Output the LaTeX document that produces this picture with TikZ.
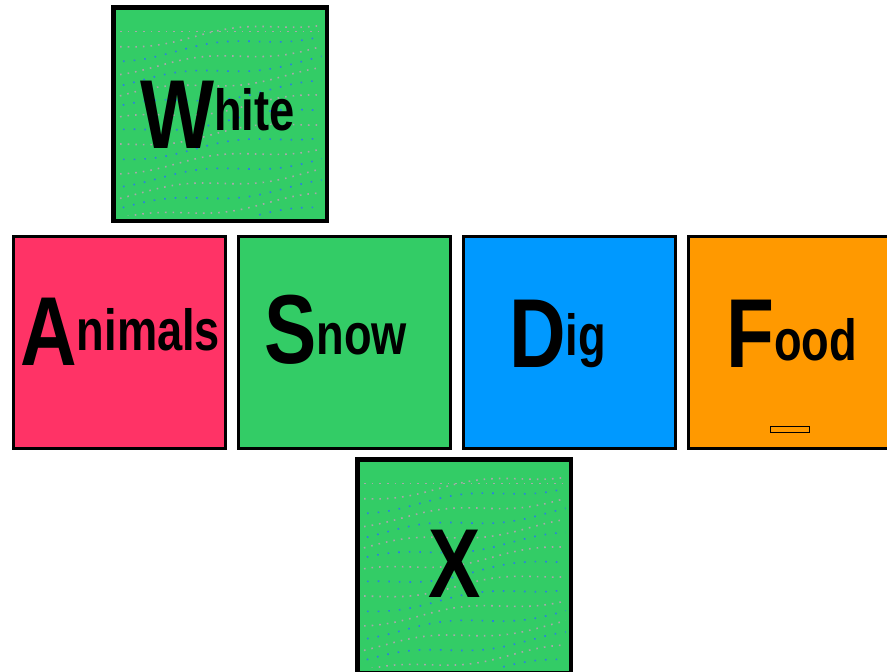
\documentclass[tikz,border=0pt]{standalone}
\usepackage{fontspec}
\setmainfont{Liberation Sans}
\usepackage{graphicx}
\definecolor{tgreen}{HTML}{33CC66}
\definecolor{tpink}{HTML}{FF3366}
\definecolor{tblue}{HTML}{0099FF}
\definecolor{torange}{HTML}{FF9900}
\definecolor{dotgray}{HTML}{A8A8A8}
\definecolor{dotblue}{HTML}{2A80E0}
\newcommand\tilelbl[3]{\scalebox{0.8}[1]{\fontsize{98}{98}\selectfont\bfseries #1}\raisebox{#3}{\scalebox{0.78}[1]{\fontsize{58}{58}\selectfont\bfseries #2}}}
\newcommand\tiletexture[1]{%
  \begin{scope}
    \clip ([shift={(6,6)}]#1.north west) rectangle ([shift={(-6,-6)}]#1.south east);
    \draw[dotgray, line width=1.6pt, dash pattern=on 1.6pt off 6pt]
      ([shift={(0,25)}]#1.north west) -- ([shift={(0,25)}]#1.north east);
    \foreach \k in {0,...,15}{
      \pgfmathsetmacro{\c}{mod(\k,2)==0 ? 1 : 0}
      \ifdim\c pt>0.5pt
        \draw[dotgray, line width=1.6pt, dash pattern=on 1.6pt off 6pt]
          plot[domain=0:215, samples=40, smooth]
          ([shift={(\x,{40+\k*12.5-0.12*\x+4*sin(\x*2.2+\k*40)})}]#1.north west);
      \else
        \draw[dotblue, line width=1.6pt, dash pattern=on 1.6pt off 9pt]
          plot[domain=0:215, samples=40, smooth]
          ([shift={(\x,{40+\k*12.5-0.12*\x+4*sin(\x*2.2+\k*40)})}]#1.north west);
      \fi
    }
  \end{scope}}
\tikzset{
  tile/.style={draw=black, line width=3pt, minimum width=212pt, minimum height=212pt,
    inner sep=0pt, anchor=north west, rectangle},
  lbl/.style={anchor=base west, inner sep=0pt, text=black},
  slot/.style={draw=black, line width=1.2pt, fill=torange, minimum width=39pt,
    minimum height=6pt, inner sep=0pt}
}
\begin{document}
\begin{tikzpicture}[x=1pt, y=-1pt]
\useasboundingbox[fill=white] (0,0) rectangle (887,672);
% tiles
\node[tile, fill=tgreen] (white) at (112.5,6.5) {};
\node[tile, fill=tpink] (animals) at (11.5,234.5) {};
\node[tile, fill=tgreen] (snow) at (236.5,234.5) {};
\node[tile, fill=tblue] (dig) at (461.5,234.5) {};
\node[tile, fill=torange] (food) at (686.5,234.5) {};
\node[tile, fill=tgreen] (x) at (356.5,458.5) {};
% textures
\tiletexture{white}
\tiletexture{x}
\draw[black, line width=3pt] (white.north west) rectangle (white.south east);
\draw[black, line width=3pt] (x.north west) rectangle (x.south east);
% labels
\node[lbl] (twhite) at (140,148) {\tilelbl{W}{hite}{18pt}};
\node[lbl] (tanimals) at (20,365) {\tilelbl{A}{nimals}{15pt}};
\node[lbl] (tsnow) at (264,363) {\tilelbl{S}{now}{9pt}};
\node[lbl] (tdig) at (509,367) {\tilelbl{D}{ig}{12pt}};
\node[lbl] (tfood) at (726,367) {\tilelbl{F}{ood}{7pt}};
\node[lbl] (tx) at (428,597) {\scalebox{0.8}[1]{\fontsize{98}{98}\selectfont\bfseries X}};
% slot on food tile
\node[slot] (foodslot) at (790,429.5) {};
\end{tikzpicture}
\end{document}
